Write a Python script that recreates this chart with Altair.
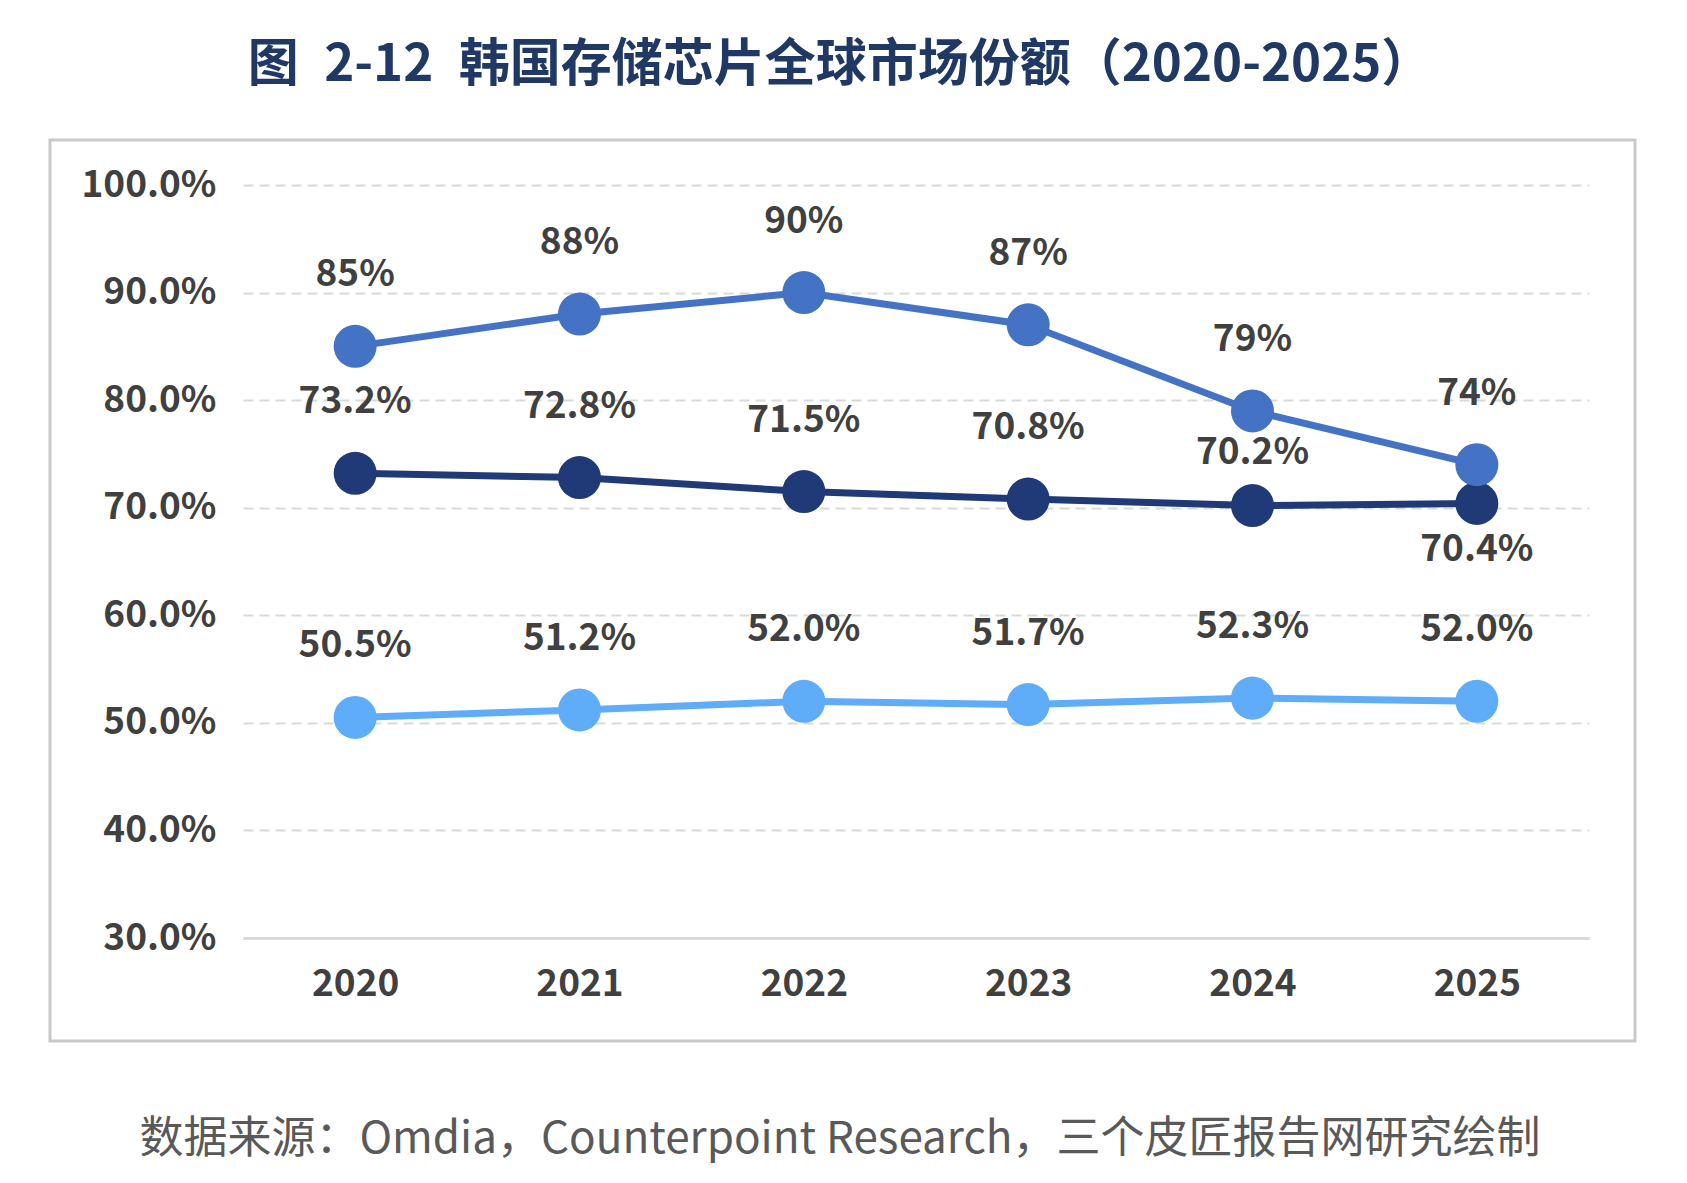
import altair as alt
import pandas as pd

# Years on the x axis
years = ["2020", "2021", "2022", "2023", "2024", "2025"]

# Market share (%) of the three series
series_top = [85, 88, 90, 87, 79, 74]
series_mid = [73.2, 72.8, 71.5, 70.8, 70.2, 70.4]
series_low = [50.5, 51.2, 52.0, 51.7, 52.3, 52.0]

series_names = ["系列1", "系列2", "系列3"]
series_colors = ["#4472C4", "#1F3A76", "#5FACF8"]

y_ticks = [30, 40, 50, 60, 70, 80, 90, 100]

# En spaces keep the wider gaps after the figure number
title_text = "图\u20022-12\u2002韩国存储芯片全球市场份额（2020-2025）"
source_text = "数据来源：Omdia，Counterpoint Research，三个皮匠报告网研究绘制"

FONT = "Noto Sans CJK SC"
W, H = 1346, 753

rows = []
for name, vals in zip(series_names, [series_top, series_mid, series_low]):
    for yr, v in zip(years, vals):
        rows.append({"year": yr, "series": name, "value": v})
df = pd.DataFrame(rows)

x_enc = alt.X(
    "year:O",
    sort=years,
    scale=alt.Scale(type="point", padding=0.5),
    axis=alt.Axis(
        title=None, labelAngle=0, ticks=False, grid=False,
        domainColor="#d9d9d9", domainWidth=3,
        labelFont=FONT, labelFontSize=37, labelFontWeight="bold",
        labelColor="#404040", labelPadding=46, labelBaseline="middle",
    ),
)
y_enc = alt.Y(
    "value:Q",
    scale=alt.Scale(domain=[30, 100], nice=False, zero=False),
    axis=alt.Axis(
        title=None, values=y_ticks, domain=False, ticks=False,
        grid=True, gridColor="#d9d9d9", gridDash=[10, 6], gridWidth=2,
        labelExpr="format(datum.value, '.1f') + '%'",
        labelFont=FONT, labelFontSize=37, labelFontWeight="bold",
        labelColor="#404040", labelPadding=27,
    ),
)
color_enc = alt.Color(
    "series:N",
    scale=alt.Scale(domain=series_names, range=series_colors),
    legend=None,
)


def series_layers(name):
    src = alt.Chart(df).transform_filter(alt.datum.series == name)
    line = src.mark_line(strokeWidth=7).encode(x=x_enc, y=y_enc, color=color_enc)
    pts = src.mark_circle(size=1850, opacity=1).encode(x=x_enc, y=y_enc, color=color_enc)
    return [line, pts]


def label_layer(name, fmt, dy, keep=None, drop=None):
    src = alt.Chart(df).transform_filter(alt.datum.series == name)
    if keep is not None:
        src = src.transform_filter(alt.FieldOneOfPredicate(field="year", oneOf=keep))
    if drop is not None:
        src = src.transform_filter(~alt.FieldOneOfPredicate(field="year", oneOf=drop))
    return src.transform_calculate(
        label=f"format(datum.value, '{fmt}') + '%'"
    ).mark_text(
        font=FONT, fontSize=37, fontWeight="bold", color="#404040",
        baseline="middle", align="center", dy=dy,
    ).encode(x=x_enc, y=y_enc, text="label:N")


one = alt.Data(values=[{}])

# Outer border around the plotting region (no fill so the axes stay visible)
frame = alt.Chart(one).mark_rect(
    fillOpacity=0, stroke="#c9c9c9", strokeWidth=3
).encode(
    x=alt.value(-193), x2=alt.value(1392), y=alt.value(-45), y2=alt.value(856)
)

title = alt.Chart(one).mark_text(
    font=FONT, fontSize=51, fontWeight="bold", color="#1F3864",
    align="center", baseline="middle",
).encode(x=alt.value(597), y=alt.value(-119), text=alt.value(title_text))

source = alt.Chart(one).mark_text(
    font=FONT, fontSize=44, color="#595959",
    align="center", baseline="middle",
).encode(x=alt.value(597), y=alt.value(955), text=alt.value(source_text))

layers = [frame, title, source]
layers += series_layers("系列3")
layers += series_layers("系列2")
layers += series_layers("系列1")
layers += [
    label_layer("系列1", ".0f", -71),
    label_layer("系列3", ".1f", -71),
    label_layer("系列2", ".1f", -71, drop=["2024", "2025"]),
    label_layer("系列2", ".1f", -53, keep=["2024"]),
    label_layer("系列2", ".1f", 47, keep=["2025"]),
]

chart = alt.layer(*layers).properties(
    width=W, height=H,
    autosize=alt.AutoSizeParams(type="none"),
    padding={"left": 243, "top": 185, "right": 98, "bottom": 245},
    background="white",
).configure_view(stroke=None)

chart.save("out.html", embed_options={"renderer": "svg", "actions": False})
